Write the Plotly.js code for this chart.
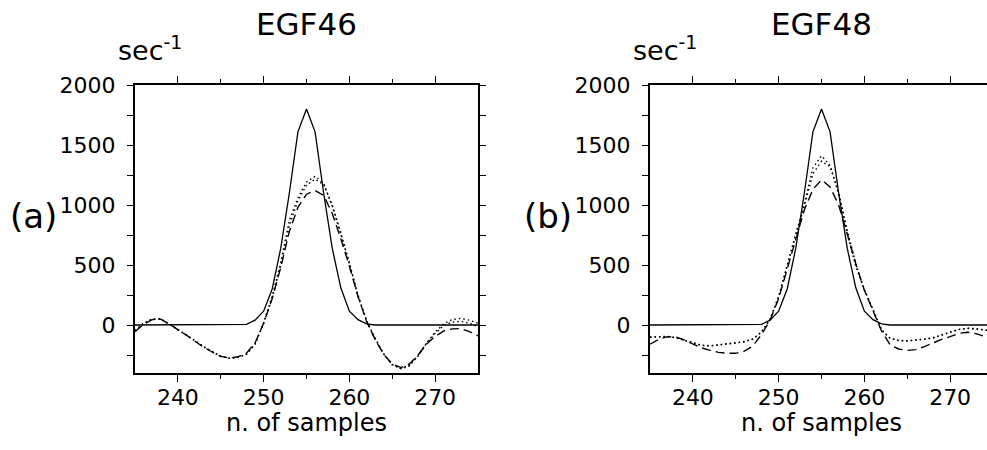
<!DOCTYPE html>
<html><head><meta charset="utf-8">
<script src="https://cdn.plot.ly/plotly-3.0.1.min.js"></script>
<style>html,body{margin:0;padding:0;overflow:hidden;background:#fff}#chart{width:1000px;height:450px}</style>
</head><body><div id="chart"></div>
<script>
// sample index axis
const samples = [235,236,237,238,239,240,241,242,243,244,245,246,247,248,249,250,251,252,253,254,255,256,257,258,259,260,261,262,263,264,265,266,267,268,269,270,271,272,273,274,275];

// reference source time function (solid), same in both panels
const stfRef = [0,0,0,0,0,0,0,0,0,0,0,0,0,5,40,115,300,640,1100,1610,1800,1610,1100,640,310,115,45,10,0,0,0,0,0,0,0,0,0,0,0,0,0];

// panel (a) EGF46
const egf46Dot = [-45,15,50,50,8,-35,-85,-130,-180,-220,-262,-278,-270,-245,-160,20,240,520,870,1060,1190,1240,1180,990,760,520,250,40,-110,-240,-330,-365,-340,-260,-150,-60,10,45,55,40,15];
const egf46Dot2 = [-48,12,48,50,8,-35,-85,-132,-182,-222,-262,-277,-268,-242,-158,15,225,495,830,1035,1165,1215,1170,1000,770,510,240,35,-115,-242,-330,-362,-335,-255,-152,-70,-5,25,30,15,-15];
const egf46Dash = [-55,5,45,48,8,-35,-85,-135,-185,-225,-262,-275,-265,-235,-150,15,220,480,780,980,1090,1120,1080,930,720,490,240,30,-120,-245,-325,-355,-325,-250,-160,-95,-50,-32,-30,-55,-90];

// panel (b) EGF48
const egf48Dot = [-100,-95,-95,-105,-125,-150,-170,-175,-168,-158,-150,-140,-118,-60,50,240,500,770,1010,1310,1410,1330,1090,760,490,290,130,-40,-110,-128,-132,-128,-118,-108,-85,-58,-38,-28,-32,-42,-50];
const egf48Dot2 = [-102,-96,-96,-106,-126,-150,-168,-173,-166,-156,-148,-138,-116,-58,45,230,490,760,990,1260,1365,1320,1110,790,510,295,130,-40,-112,-130,-133,-128,-118,-106,-84,-57,-37,-27,-30,-40,-48];
const egf48Dash = [-160,-120,-98,-100,-125,-160,-190,-212,-228,-236,-236,-218,-175,-80,40,220,470,730,960,1130,1210,1150,1000,760,510,290,120,-50,-165,-200,-212,-205,-180,-150,-120,-97,-70,-60,-72,-95,-115];

const xTickVals = [240,250,260,270];
const xMinorVals = [245,255,265];
const yTickVals = [0,500,1000,1500,2000];
const yMinorVals = [-250,250,750,1250,1750];

const FONT = 'DejaVu Sans, Liberation Sans, sans-serif';

function line(x, y, xa, ya, dash, width) {
  return {x: x, y: y, xaxis: xa, yaxis: ya, type: 'scatter', mode: 'lines',
    line: {color: '#000', width: width, dash: dash}, hoverinfo: 'skip', showlegend: false};
}

const traces = [
  line(samples, egf46Dash, 'x', 'y', '9px,5px', 1.4),
  line(samples, egf46Dot2, 'x', 'y', '1.5px,3px', 1.4),
  line(samples, egf46Dot, 'x', 'y', '1.5px,3px', 1.4),
  line(samples, stfRef, 'x', 'y', 'solid', 1.3),
  line(samples, egf48Dash, 'x2', 'y2', '9px,5px', 1.4),
  line(samples, egf48Dot2, 'x2', 'y2', '1.5px,3px', 1.4),
  line(samples, egf48Dot, 'x2', 'y2', '1.5px,3px', 1.4),
  line(samples, stfRef, 'x2', 'y2', 'solid', 1.3)
];

function xa(domain, anchor) {
  return {domain: domain, anchor: anchor, range: [235, 275], tickmode: 'array', tickvals: xTickVals,
    ticks: 'outside', ticklen: 7, tickwidth: 1, tickcolor: '#000',
    showline: true, linewidth: 2, linecolor: '#000', mirror: 'allticks',
    showgrid: false, zeroline: false, ticklabelstandoff: -3,
    tickfont: {family: FONT, size: 22, color: '#000'},
    minor: {tickmode: 'array', tickvals: xMinorVals, ticks: 'outside', ticklen: 4, tickwidth: 1, tickcolor: '#000', showgrid: false}};
}
function ya(domain, anchor) {
  return {domain: domain, anchor: anchor, range: [-400, 2000], tickmode: 'array', tickvals: yTickVals,
    ticks: 'outside', ticklen: 6, tickwidth: 1, tickcolor: '#000',
    showline: true, linewidth: 2, linecolor: '#000', mirror: 'allticks',
    showgrid: false, zeroline: false, ticklabelstandoff: 7,
    tickfont: {family: FONT, size: 22, color: '#000'},
    minor: {tickmode: 'array', tickvals: yMinorVals, ticks: 'outside', ticklen: 6, tickwidth: 1, tickcolor: '#000', showgrid: false}};
}

const W = 1000, H = 450;
const yDom = [(H - 373) / H, (H - 85) / H];
function px(x) { return x / W; }
function py(y) { return (H - y) / H; }

function ann(text, x, y, size, xanchor) {
  return {text: text, x: px(x), y: py(y), xref: 'paper', yref: 'paper', showarrow: false,
    xanchor: xanchor || 'center', yanchor: 'middle', font: {family: FONT, size: size, color: '#000'}};
}

const layout = {
  width: W, height: H, margin: {l: 0, r: 0, t: 0, b: 0},
  paper_bgcolor: '#fff', plot_bgcolor: '#fff',
  xaxis: xa([px(135), px(478)], 'y'),
  yaxis: ya(yDom, 'x'),
  xaxis2: xa([px(650), px(993)], 'y2'),
  yaxis2: ya(yDom, 'x2'),
  annotations: [
    ann('EGF46', 306.5, 24, 31),
    ann('EGF48', 821.5, 24, 31),
    ann('sec<sup>-1</sup>', 116, 48, 27, 'left'),
    ann('sec<sup>-1</sup>', 631, 48, 27, 'left'),
    ann('(a)', 33, 216, 34),
    ann('(b)', 548, 216, 34),
    ann('n. of samples', 306.5, 423, 24),
    ann('n. of samples', 821.5, 423, 24)
  ]
};

Plotly.newPlot('chart', traces, layout, {staticPlot: true, displayModeBar: false});
</script>
</body></html>
